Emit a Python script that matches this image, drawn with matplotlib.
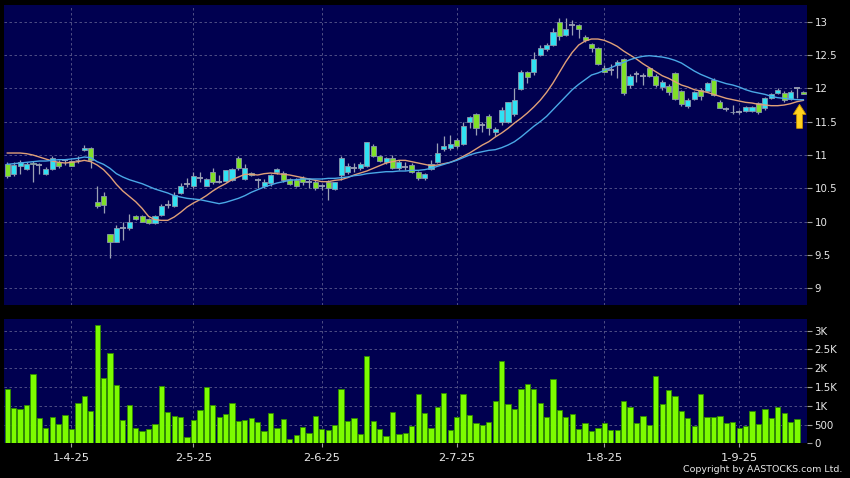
#!/usr/bin/env python3
"""Daily candles with two moving averages and volume, AASTOCKS style."""
import numpy as np
import matplotlib
matplotlib.use('Agg')
import matplotlib.pyplot as plt
from matplotlib.patches import FancyArrow
from matplotlib.ticker import FuncFormatter

# price data, one entry per trading day
opens = [10.86, 10.71, 10.84, 10.79, 10.88, 10.85, 10.71, 10.79, 10.89, 10.92,
         10.91, 10.92, 11.08, 11.10, 10.30, 10.39, 9.81, 9.70, 9.90, 9.91,
         10.08, 10.09, 10.04, 9.98, 10.10, 10.25, 10.24, 10.43, 10.56, 10.53,
         10.66, 10.54, 10.74, 10.60, 10.61, 10.62, 10.95, 10.64, 10.73, 10.62,
         10.53, 10.58, 10.74, 10.73, 10.64, 10.63, 10.65, 10.60, 10.59, 10.53,
         10.59, 10.49, 10.70, 10.74, 10.80, 10.80, 10.84, 11.14, 10.98, 10.89,
         10.96, 10.80, 10.82, 10.85, 10.74, 10.65, 10.79, 10.90, 11.09, 11.10,
         11.22, 11.17, 11.49, 11.61, 11.45, 11.59, 11.34, 11.49, 11.50, 11.61,
         11.99, 12.24, 12.25, 12.50, 12.59, 12.65, 13.00, 12.80, 12.95, 12.95,
         12.77, 12.66, 12.60, 12.30, 12.28, 12.35, 12.44, 12.05, 12.22, 12.18,
         12.30, 12.19, 12.02, 12.04, 12.23, 11.96, 11.73, 11.84, 11.98, 11.96,
         12.13, 11.80, 11.69, 11.65, 11.65, 11.66, 11.66, 11.78, 11.70, 11.86,
         11.93, 11.93, 11.84, 12.00, 11.95]
highs = [10.90, 10.90, 10.92, 10.90, 10.91, 10.88, 10.82, 10.98, 10.92, 10.94,
         10.93, 10.98, 11.15, 11.12, 10.53, 10.45, 9.81, 9.95, 10.00, 10.11,
         10.10, 10.10, 10.06, 10.10, 10.26, 10.32, 10.44, 10.58, 10.66, 10.74,
         10.74, 10.66, 10.80, 10.70, 10.78, 10.80, 10.99, 10.86, 10.75, 10.66,
         10.64, 10.72, 10.81, 10.76, 10.66, 10.65, 10.68, 10.65, 10.62, 10.56,
         10.62, 10.60, 10.98, 10.88, 10.88, 10.90, 11.20, 11.16, 11.00, 10.97,
         11.00, 10.92, 10.90, 10.88, 10.76, 10.73, 10.92, 11.18, 11.29, 11.30,
         11.25, 11.50, 11.58, 11.63, 11.49, 11.61, 11.42, 11.72, 11.80, 12.00,
         12.28, 12.26, 12.55, 12.65, 12.68, 12.90, 13.05, 13.05, 13.03, 12.97,
         12.80, 12.68, 12.62, 12.35, 12.36, 12.42, 12.46, 12.22, 12.26, 12.23,
         12.32, 12.22, 12.12, 12.06, 12.25, 11.98, 11.85, 11.96, 12.00, 12.10,
         12.15, 11.82, 11.72, 11.75, 11.67, 11.74, 11.74, 11.80, 11.87, 11.93,
         12.00, 11.96, 11.97, 12.00, 11.96]
lows = [10.66, 10.69, 10.72, 10.77, 10.60, 10.71, 10.70, 10.78, 10.81, 10.85,
        10.83, 10.88, 11.06, 10.80, 10.21, 10.13, 9.45, 9.69, 9.72, 9.88,
        10.02, 9.99, 9.96, 9.97, 10.08, 10.20, 10.22, 10.41, 10.52, 10.50,
        10.60, 10.53, 10.57, 10.58, 10.60, 10.61, 10.78, 10.62, 10.69, 10.50,
        10.50, 10.54, 10.72, 10.60, 10.55, 10.52, 10.55, 10.50, 10.48, 10.48,
        10.33, 10.47, 10.63, 10.72, 10.74, 10.77, 10.82, 10.97, 10.89, 10.87,
        10.79, 10.78, 10.78, 10.73, 10.63, 10.63, 10.77, 10.88, 11.06, 11.08,
        11.10, 11.15, 11.40, 11.30, 11.35, 11.30, 11.28, 11.45, 11.48, 11.59,
        11.97, 12.08, 12.20, 12.48, 12.56, 12.63, 12.73, 12.78, 12.80, 12.75,
        12.70, 12.55, 12.35, 12.24, 12.20, 12.15, 11.90, 12.00, 12.10, 12.05,
        12.17, 12.02, 11.98, 11.90, 11.82, 11.74, 11.70, 11.82, 11.82, 11.94,
        11.88, 11.70, 11.66, 11.62, 11.62, 11.64, 11.64, 11.62, 11.68, 11.84,
        11.91, 11.80, 11.82, 11.85, 11.91]
closes = [10.68, 10.85, 10.89, 10.86, 10.86, 10.85, 10.79, 10.96, 10.83, 10.92,
          10.84, 10.93, 11.10, 10.93, 10.23, 10.25, 9.70, 9.91, 9.90, 9.99,
          10.04, 10.00, 9.98, 10.09, 10.23, 10.25, 10.40, 10.54, 10.56, 10.68,
          10.66, 10.64, 10.59, 10.60, 10.77, 10.79, 10.80, 10.80, 10.70, 10.62,
          10.59, 10.70, 10.79, 10.62, 10.57, 10.54, 10.60, 10.60, 10.51, 10.53,
          10.51, 10.59, 10.96, 10.83, 10.80, 10.86, 11.19, 10.99, 10.91, 10.95,
          10.81, 10.90, 10.82, 10.75, 10.65, 10.71, 10.87, 11.03, 11.14, 11.16,
          11.14, 11.44, 11.57, 11.40, 11.45, 11.40, 11.39, 11.67, 11.79, 11.83,
          12.24, 12.17, 12.44, 12.60, 12.65, 12.84, 12.78, 12.89, 12.95, 12.89,
          12.73, 12.60, 12.37, 12.25, 12.28, 12.40, 11.93, 12.19, 12.22, 12.18,
          12.19, 12.05, 12.09, 11.94, 11.84, 11.76, 11.83, 11.94, 11.89, 12.08,
          11.90, 11.71, 11.69, 11.64, 11.65, 11.72, 11.72, 11.64, 11.85, 11.91,
          11.98, 11.83, 11.95, 12.00, 11.91]

# short and long moving average lines as drawn on the chart
ma_short = [11.03, 11.03, 11.03, 11.02, 11.00, 10.97, 10.94, 10.91, 10.89, 10.88,
            10.89, 10.90, 10.92, 10.90, 10.85, 10.78, 10.68, 10.56, 10.46, 10.38,
            10.30, 10.20, 10.08, 10.03, 10.02, 10.02, 10.07, 10.14, 10.22, 10.28,
            10.33, 10.39, 10.46, 10.52, 10.57, 10.63, 10.67, 10.71, 10.71, 10.70,
            10.72, 10.73, 10.72, 10.71, 10.70, 10.68, 10.66, 10.64, 10.62, 10.60,
            10.60, 10.62, 10.63, 10.66, 10.70, 10.73, 10.76, 10.80, 10.84, 10.88,
            10.90, 10.92, 10.92, 10.90, 10.88, 10.86, 10.84, 10.85, 10.87, 10.89,
            10.93, 10.98, 11.03, 11.09, 11.15, 11.20, 11.27, 11.33, 11.40, 11.48,
            11.55, 11.63, 11.72, 11.82, 11.94, 12.08, 12.24, 12.40, 12.54, 12.65,
            12.71, 12.74, 12.74, 12.72, 12.68, 12.63, 12.56, 12.50, 12.44, 12.37,
            12.31, 12.25, 12.19, 12.15, 12.10, 12.05, 12.02, 11.98, 11.96, 11.94,
            11.91, 11.88, 11.85, 11.83, 11.81, 11.79, 11.78, 11.76, 11.75, 11.74,
            11.74, 11.75, 11.77, 11.80, 11.82]
ma_long = [10.86, 10.87, 10.88, 10.89, 10.90, 10.91, 10.91, 10.92, 10.93, 10.93,
           10.94, 10.95, 10.97, 10.96, 10.90, 10.86, 10.80, 10.72, 10.67, 10.63,
           10.60, 10.57, 10.53, 10.49, 10.46, 10.43, 10.39, 10.37, 10.35, 10.34,
           10.33, 10.31, 10.29, 10.27, 10.29, 10.32, 10.35, 10.39, 10.44, 10.48,
           10.52, 10.55, 10.58, 10.60, 10.62, 10.63, 10.64, 10.64, 10.64, 10.64,
           10.65, 10.65, 10.66, 10.67, 10.69, 10.70, 10.72, 10.73, 10.74, 10.75,
           10.75, 10.76, 10.76, 10.77, 10.77, 10.78, 10.80, 10.83, 10.86, 10.89,
           10.92, 10.96, 11.00, 11.03, 11.05, 11.07, 11.08, 11.11, 11.15, 11.20,
           11.27, 11.35, 11.43, 11.50, 11.58, 11.68, 11.78, 11.88, 11.98, 12.06,
           12.13, 12.20, 12.23, 12.27, 12.31, 12.35, 12.39, 12.43, 12.46, 12.48,
           12.49, 12.48, 12.47, 12.45, 12.42, 12.38, 12.32, 12.26, 12.21, 12.17,
           12.13, 12.10, 12.07, 12.05, 12.02, 11.98, 11.95, 11.93, 11.91, 11.88,
           11.86, 11.85, 11.84, 11.83, 11.83]

# daily volume (shares, thousands shown as K on the axis)
volumes = [1446, 932, 914, 1020, 1846, 683, 408, 692, 506, 745,
           373, 1065, 1260, 870, 3150, 1748, 2414, 1562, 612, 1029,
           408, 328, 390, 506, 1526, 834, 728, 710, 169, 612,
           878, 1500, 1020, 710, 790, 1065, 603, 612, 674, 559,
           337, 816, 399, 657, 115, 222, 444, 284, 728, 382,
           364, 488, 1455, 603, 674, 257, 2325, 603, 390, 186,
           834, 240, 284, 453, 1313, 799, 417, 967, 1331, 346,
           710, 1310, 750, 530, 480, 560, 1130, 2180, 1040, 920,
           1450, 1580, 1450, 1080, 690, 1710, 880, 690, 790, 370,
           530, 320, 410, 550, 360, 350, 1130, 980, 550, 720,
           500, 1800, 1060, 1410, 1250, 850, 680, 450, 1310, 700,
           690, 740, 540, 570, 420, 460, 860, 510, 910, 670,
           960, 820, 580, 660, 15]

date_ticks = [10, 29, 49, 70, 93, 114]
date_labels = ['1-4-25', '2-5-25', '2-6-25', '2-7-25', '1-8-25', '1-9-25']

BG = '#000050'
GRID = '#5a5a8c'
CYAN = '#30e2f2'
GREEN = '#80e028'
EDGE = '#8a98ac'
WICK = '#9aa0b4'
TXT = '#e8e8e8'

o = np.array(opens)
h = np.array(highs)
l = np.array(lows)
c = np.array(closes)
idx = np.arange(len(c))

fig = plt.figure(figsize=(8.5, 4.78), dpi=100, facecolor='black')
ax = fig.add_axes([0.0047, 0.3619, 0.9447, 0.6276], facecolor=BG)
axv = fig.add_axes([0.0047, 0.0726, 0.9447, 0.26], facecolor=BG, sharex=ax)

# candles
up = c > o
dn = c < o
flat = c == o
ax.vlines(idx, l, h, color=WICK, lw=0.9, zorder=2)
ax.bar(idx[up], (c - o)[up], bottom=o[up], width=0.8, color=CYAN,
       edgecolor=EDGE, lw=0.6, zorder=3)
ax.bar(idx[dn], (o - c)[dn], bottom=c[dn], width=0.8, color=GREEN,
       edgecolor=EDGE, lw=0.6, zorder=3)
ax.hlines(c[flat], idx[flat] - 0.45, idx[flat] + 0.45, color=WICK, lw=1.3, zorder=3)

ax.plot(idx, ma_short, color='#e0a078', lw=1.0, zorder=4)
ax.plot(idx, ma_long, color='#4aa8e6', lw=1.0, zorder=4)

# yellow marker arrow at the last bar
ax.add_patch(FancyArrow(idx[-1] - 0.6, 11.40, 0, 0.36, width=0.9, head_width=2.0,
                        head_length=0.15, length_includes_head=True,
                        facecolor='#ffd21e', edgecolor='#c89000', lw=0.6, zorder=5))

ax.set_xlim(-0.51, 124.56)
ax.set_ylim(8.75, 13.25)
ax.set_yticks(np.arange(9, 13.01, 0.5))
ax.yaxis.set_major_formatter(FuncFormatter(lambda v, p: '{:g}'.format(v)))

# volume bars
axv.bar(idx, volumes, width=0.82, color='#7cfc00', edgecolor='#2f8a00', lw=0.6, zorder=3)
axv.set_ylim(0, 3312)
axv.set_yticks(np.arange(0, 3001, 500))


def vol_fmt(v, p):
    if v == 0:
        return '0'
    if v < 1000:
        return '{:g}'.format(v)
    return '{:g}K'.format(v / 1000)


axv.yaxis.set_major_formatter(FuncFormatter(vol_fmt))
axv.set_xticks(date_ticks)
axv.set_xticklabels(date_labels)

for a in (ax, axv):
    a.set_axisbelow(True)
    a.grid(True, color=GRID, ls=(0, (3, 3)), lw=0.6)
    for s in a.spines.values():
        s.set_visible(False)
    a.yaxis.tick_right()
    a.tick_params(axis='y', colors='#a0a0a0', labelcolor=TXT, length=3.5,
                  width=0.8, pad=2, labelsize=7.4)

ax.tick_params(axis='x', length=0, labelbottom=False)
axv.tick_params(axis='x', colors='#a0a0a0', labelcolor=TXT, length=3,
                width=0.8, pad=4, labelsize=8.2)

fig.text(0.991, 0.008, 'Copyright by AASTOCKS.com Ltd.', color=TXT,
         fontsize=6.8, ha='right', va='bottom')

fig.savefig('out.png', dpi=100, facecolor='black')
